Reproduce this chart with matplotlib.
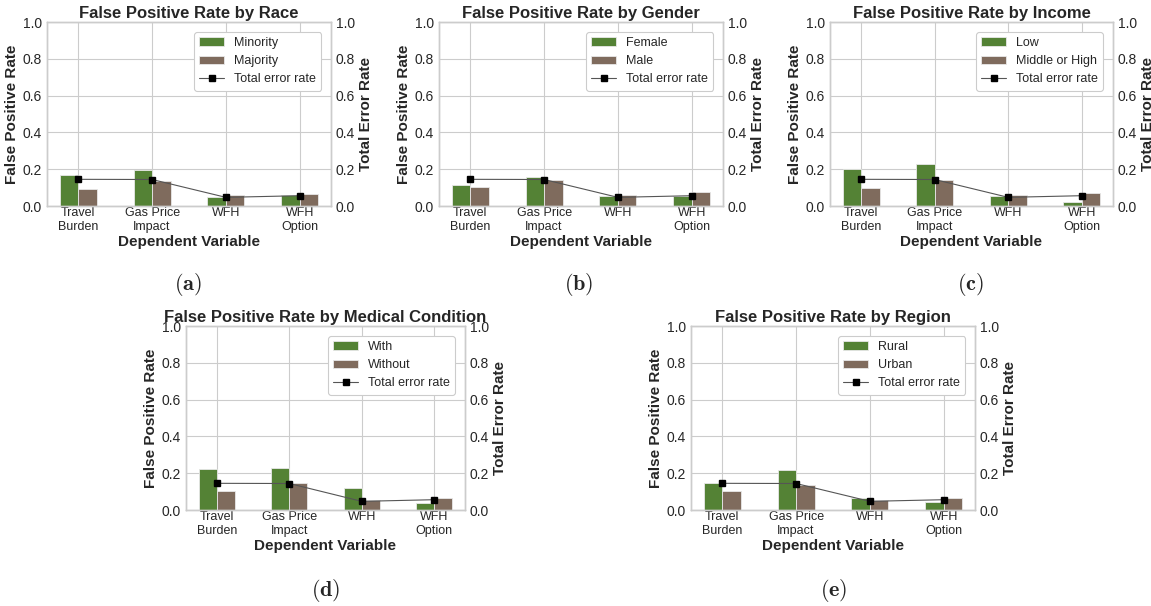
import matplotlib
matplotlib.use('Agg')
import matplotlib.pyplot as plt
import numpy as np

plt.style.use('seaborn-v0_8-whitegrid')
plt.rcParams['mathtext.fontset'] = 'cm'

dep_vars = ['Travel\nBurden', 'Gas Price\nImpact', 'WFH', 'WFH\nOption']
total_error = [0.145, 0.144, 0.047, 0.056]

race_groups = ['Minority', 'Majority']
race_a = [0.167, 0.195, 0.049, 0.058]
race_b = [0.095, 0.138, 0.062, 0.067]

gender_groups = ['Female', 'Male']
gender_a = [0.113, 0.156, 0.056, 0.055]
gender_b = [0.105, 0.140, 0.058, 0.075]

income_groups = ['Low', 'Middle or High']
income_a = [0.200, 0.227, 0.053, 0.022]
income_b = [0.100, 0.144, 0.058, 0.069]

medical_groups = ['With', 'Without']
medical_a = [0.221, 0.228, 0.121, 0.036]
medical_b = [0.105, 0.145, 0.056, 0.063]

region_groups = ['Rural', 'Urban']
region_a = [0.145, 0.219, 0.063, 0.045]
region_b = [0.103, 0.137, 0.056, 0.067]

GREEN = '#548235'
BROWN = '#7f6b5d'
W, H = 1151, 606


def px_axes(fig, left, top, right, bottom):
    return fig.add_axes([left / W, 1 - bottom / H, (right - left) / W, (bottom - top) / H])


def panel(ax, title, groups, vals_a, vals_b):
    x = np.arange(len(dep_vars))
    width = 0.25
    ax.bar(x - width, vals_a, width, align='edge', color=GREEN, edgecolor='#e8e8e8',
           linewidth=0.6, label=groups[0])
    ax.bar(x, vals_b, width, align='edge', color=BROWN, edgecolor='#e8e8e8',
           linewidth=0.6, label=groups[1])
    ax.set_ylim(0, 1.0)
    ax.set_xticks(x)
    ax.set_xticklabels(dep_vars, fontsize=9)
    ax.tick_params(axis='y', labelsize=10)
    ax.set_title(title, fontsize=12, fontweight='bold', pad=3)
    ax.set_xlabel('Dependent Variable', fontsize=11, fontweight='bold', labelpad=1)
    ax.set_ylabel('False Positive Rate', fontsize=11, fontweight='bold', labelpad=3)
    ax.tick_params(axis='x', pad=1)

    ax2 = ax.twinx()
    ax2.plot(x, total_error, color='#555555', linewidth=0.8, marker='s',
             markersize=5, markerfacecolor='black', markeredgecolor='black',
             label='Total error rate')
    ax2.set_ylim(0, 1.0)
    ax2.grid(False)
    ax2.tick_params(axis='y', labelsize=10)
    ax2.set_ylabel('Total Error Rate', fontsize=11, fontweight='bold', labelpad=3)

    h1, l1 = ax.get_legend_handles_labels()
    h2, l2 = ax2.get_legend_handles_labels()
    leg = ax2.legend(h1 + h2, l1 + l2, loc='upper right', fontsize=9, frameon=True,
                     facecolor='white', edgecolor='#cccccc', framealpha=1.0,
                     borderaxespad=0.8)
    leg.get_frame().set_linewidth(0.8)


fig = plt.figure(figsize=(W / 100, H / 100), dpi=100)

panels = [
    ((47, 22, 331, 206), 'False Positive Rate by Race', race_groups, race_a, race_b),
    ((439, 22, 723, 206), 'False Positive Rate by Gender', gender_groups, gender_a, gender_b),
    ((830, 22, 1113, 206), 'False Positive Rate by Income', income_groups, income_a, income_b),
    ((186, 326, 465, 510), 'False Positive Rate by Medical Condition', medical_groups, medical_a, medical_b),
    ((691, 326, 975, 510), 'False Positive Rate by Region', region_groups, region_a, region_b),
]
for box, title, groups, a, b in panels:
    panel(px_axes(fig, *box), title, groups, a, b)

captions = [('a', 188, 285), ('b', 579, 285), ('c', 970, 285), ('d', 326, 590), ('e', 834, 590)]
for letter, cx, cy in captions:
    fig.text(cx / W, 1 - cy / H, r'$\mathbf{(%s)}$' % letter, fontsize=16,
             ha='center', va='center')

fig.savefig('out.png', dpi=100)
